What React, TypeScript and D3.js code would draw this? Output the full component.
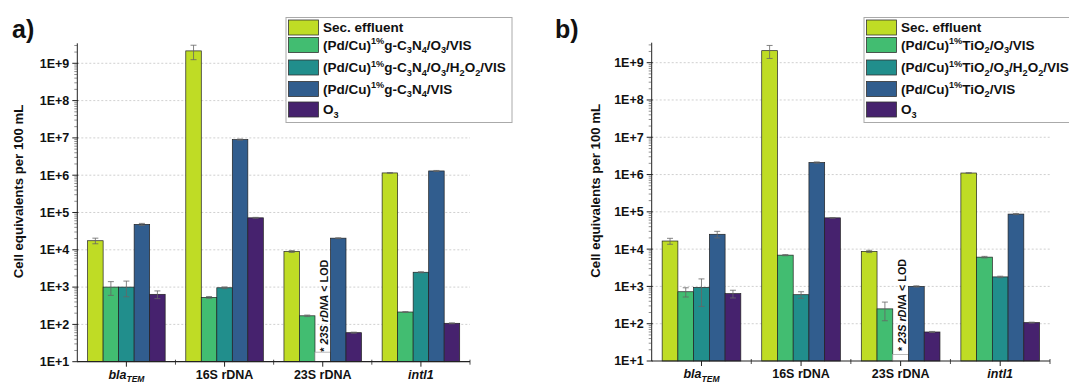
import React from 'react';
import * as d3 from 'd3';

// categories on the x axis
const categories = ['bla_{TEM}', '16S rDNA', '23S rDNA', 'intl1'];
const categoryItalic = [true, false, false, true];

// y ticks (log scale)
const yTickValues = [1e1, 1e2, 1e3, 1e4, 1e5, 1e6, 1e7, 1e8, 1e9];
const yTickLabels = ['1E+1', '1E+2', '1E+3', '1E+4', '1E+5', '1E+6', '1E+7', '1E+8', '1E+9'];

const seriesColors = ['#bfdc25', '#42bd71', '#218e8c', '#315d8e', '#46226e'];

// panel a) g-C3N4
const seriesNamesA = [
  'Sec. effluent',
  '(Pd/Cu)^{1%}g-C_{3}N_{4}/O_{3}/VIS',
  '(Pd/Cu)^{1%}g-C_{3}N_{4}/O_{3}/H_{2}O_{2}/VIS',
  '(Pd/Cu)^{1%}g-C_{3}N_{4}/VIS',
  'O_{3}',
];
const secEffluentA = [17500, 2.15e9, 9000, 1.15e6];
const gcnO3VisA = [1000, 530, 170, 215];
const gcnO3H2O2VisA = [1000, 960, null, 2500];
const gcnVisA = [48000, 9.0e6, 20500, 1.3e6];
const ozoneA = [640, 72000, 60, 107];
const secEffluentErrA = [3000, 9e8, 500, 30000];
const gcnO3VisErrA = [400, 30, 8, 5];
const gcnO3H2O2VisErrA = [450, 50, 0, 80];
const gcnVisErrA = [3000, 3e5, 500, 40000];
const ozoneErrA = [150, 2000, 2, 3];
const lodA = 18;

// panel b) TiO2
const seriesNamesB = [
  'Sec. effluent',
  '(Pd/Cu)^{1%}TiO_{2}/O_{3}/VIS',
  '(Pd/Cu)^{1%}TiO_{2}/O_{3}/H_{2}O_{2}/VIS',
  '(Pd/Cu)^{1%}TiO_{2}/VIS',
  'O_{3}',
];
const secEffluentB = [16500, 2.1e9, 8700, 1.1e6];
const tiO3VisB = [720, 6900, 250, 6100];
const tiO3H2O2VisB = [940, 600, null, 1800];
const tiVisB = [25000, 2.1e6, 1000, 87000];
const ozoneB = [640, 69000, 60, 107];
const secEffluentErrB = [3000, 8e8, 600, 25000];
const tiO3VisErrB = [200, 250, 130, 300];
const tiO3H2O2VisErrB = [650, 120, 0, 80];
const tiVisErrB = [5000, 80000, 40, 3000];
const ozoneErrB = [150, 1500, 2, 3];
const lodB = 15;

const FONT = "'Liberation Sans', Arial, Helvetica, sans-serif";

type Seg = { t: string; k: 'n' | 'sub' | 'sup' };
const parseRich = (s: string): Seg[] =>
  s
    .split(/(\^\{[^}]*\}|_\{[^}]*\})/)
    .filter(Boolean)
    .map((p) =>
      p.startsWith('^{')
        ? { t: p.slice(2, -1), k: 'sup' as const }
        : p.startsWith('_{')
        ? { t: p.slice(2, -1), k: 'sub' as const }
        : { t: p, k: 'n' as const }
    );

const RichText = ({ text, x, y, size, anchor = 'start', italic = false }: any) => {
  let cur = 0;
  return (
    <text x={x} y={y} fontSize={size} fontWeight="bold" fontFamily={FONT} textAnchor={anchor} fontStyle={italic ? 'italic' : 'normal'} fill="#111">
      {parseRich(text).map((s, i) => {
        const target = s.k === 'sup' ? -size * 0.38 : s.k === 'sub' ? size * 0.28 : 0;
        const dy = target - cur;
        cur = target;
        return (
          <tspan key={i} dy={dy} fontSize={s.k === 'n' ? size : size * 0.68}>
            {s.t}
          </tspan>
        );
      })}
    </text>
  );
};

interface PanelProps {
  label: string;
  labelX: number;
  axisX: number;
  axisEnd: number;
  bottom: number;
  top: number;
  yLabelX: number;
  legendX: number;
  legendW: number;
  names: string[];
  values: (number | null)[][];
  errors: number[][];
  lod: number;
}

const Panel = (p: PanelProps) => {
  const y = d3.scaleLog().domain([10, Math.pow(10, 9.536)]).range([p.bottom, p.top]);
  const x0 = d3.scaleBand<string>().domain(categories).range([p.axisX, p.axisEnd]).paddingInner(0.21).paddingOuter(0.105);
  const x1 = d3
    .scaleBand<number>()
    .domain(d3.range(p.names.length))
    .range([0, x0.bandwidth()]);
  const step = x0.step();

  const minor: number[] = [];
  for (let d = 1; d <= 9; d++) for (let k = 2; k <= 9; k++) if (k * 10 ** d <= y.domain()[1]) minor.push(k * 10 ** d);

  const legendRows = [27.5, 45, 67.5, 89, 109.5];
  const lodCat = categories[2];

  return (
    <g>
      <text x={p.labelX} y={38} fontSize={25} fontWeight="bold" fontFamily={FONT} fill="#111">
        {p.label}
      </text>
      {/* grid */}
      {yTickValues.slice(1).map((v) => (
        <line key={v} x1={p.axisX} x2={p.axisEnd} y1={y(v)} y2={y(v)} stroke="#c4c4c4" strokeWidth={0.8} strokeDasharray="2,2" />
      ))}
      {/* bars */}
      {categories.map((c, ci) =>
        p.values.map((vals, si) => {
          const v = vals[ci];
          const bx = (x0(c) as number) + (x1(si) as number);
          const bw = x1.bandwidth();
          if (v == null) {
            return (
              <rect key={`${ci}-${si}`} x={bx} y={y(p.lod)} width={bw} height={p.bottom - y(p.lod)} fill="#fff" stroke="#aaa" strokeWidth={0.8} />
            );
          }
          const e = p.errors[si][ci];
          const cx = bx + bw / 2;
          return (
            <g key={`${ci}-${si}`}>
              <rect x={bx} y={y(v)} width={bw} height={p.bottom - y(v)} fill={seriesColors[si]} stroke="#222" strokeWidth={0.7} />
              {e > 0 && (
                <g stroke="#666" strokeWidth={0.8}>
                  <line x1={cx} x2={cx} y1={y(v + e)} y2={y(Math.max(v - e, 10))} />
                  <line x1={cx - 3} x2={cx + 3} y1={y(v + e)} y2={y(v + e)} />
                  <line x1={cx - 3} x2={cx + 3} y1={y(Math.max(v - e, 10))} y2={y(Math.max(v - e, 10))} />
                </g>
              )}
            </g>
          );
        })
      )}
      {/* LOD note */}
      {(() => {
        const cx = (x0(lodCat) as number) + (x1(2) as number) + x1.bandwidth() / 2 + 1;
        return (
          <text transform={`translate(${cx},${p.bottom - 10}) rotate(-90)`} fontSize={10.8} fontWeight="bold" fontFamily={FONT} dominantBaseline="central" fill="#111">
            {'* '}
            <tspan fontStyle="italic">23S rDNA</tspan>
            {' < LOD'}
          </text>
        );
      })()}
      {/* y axis */}
      <line x1={p.axisX} x2={p.axisX} y1={p.top} y2={p.bottom} stroke="#222" strokeWidth={1} />
      {minor.map((v) => (
        <line key={v} x1={p.axisX - 3} x2={p.axisX} y1={y(v)} y2={y(v)} stroke="#444" strokeWidth={0.6} />
      ))}
      {yTickValues.map((v, i) => (
        <g key={v}>
          <line x1={p.axisX - 5} x2={p.axisX + 1} y1={y(v)} y2={y(v)} stroke="#222" strokeWidth={1} />
          <text x={p.axisX - 8} y={y(v)} dy="0.35em" textAnchor="end" fontSize={12.5} fontWeight="bold" fontFamily={FONT} fill="#111">
            {yTickLabels[i]}
          </text>
        </g>
      ))}
      <text
        transform={`translate(${p.yLabelX},${(p.top + p.bottom) / 2 - 11}) rotate(-90)`}
        textAnchor="middle"
        dominantBaseline="central"
        fontSize={13.2}
        fontWeight="bold"
        fontFamily={FONT}
        fill="#111"
      >
        Cell equivalents per 100 mL
      </text>
      {/* x axis */}
      <line x1={p.axisX} x2={p.axisEnd} y1={p.bottom} y2={p.bottom} stroke="#222" strokeWidth={1.2} />
      {categories.map((c, i) => {
        const cx = (x0(c) as number) + x0.bandwidth() / 2;
        return (
          <g key={c}>
            <line x1={cx} x2={cx} y1={p.bottom} y2={p.bottom + 5} stroke="#222" />
            <line x1={p.axisX + step * (i + 1)} x2={p.axisX + step * (i + 1)} y1={p.bottom - 2} y2={p.bottom + 3} stroke="#222" strokeWidth={0.8} />
            <RichText text={c} x={cx} y={p.bottom + 17} size={12.5} anchor="middle" italic={categoryItalic[i]} />
          </g>
        );
      })}
      {/* legend */}
      <rect x={p.legendX} y={17.5} width={p.legendW} height={105} fill="#fff" stroke="#aaa" strokeWidth={1} />
      {p.names.map((n, i) => (
        <g key={n}>
          <rect x={p.legendX + 2.5} y={legendRows[i] - 7.5} width={30} height={15} fill={seriesColors[i]} stroke="#333" strokeWidth={0.8} />
          <RichText text={n} x={p.legendX + 37} y={legendRows[i] + 4.5} size={13.5} />
        </g>
      ))}
    </g>
  );
};

export default function App() {
  return (
    <svg width={1069} height={387} style={{ position: 'absolute', left: 0, top: 0, background: '#fff' }}>
      <rect width={1069} height={387} fill="#fff" />
      <Panel
        label="a)"
        labelX={12}
        axisX={77.3}
        axisEnd={470}
        bottom={361.7}
        top={43.3}
        yLabelX={18}
        legendX={286}
        legendW={226}
        names={seriesNamesA}
        values={[secEffluentA, gcnO3VisA, gcnO3H2O2VisA, gcnVisA, ozoneA]}
        errors={[secEffluentErrA, gcnO3VisErrA, gcnO3H2O2VisErrA, gcnVisErrA, ozoneErrA]}
        lod={lodA}
      />
      <Panel
        label="b)"
        labelX={555}
        axisX={651.7}
        axisEnd={1050}
        bottom={361}
        top={42.7}
        yLabelX={595}
        legendX={864}
        legendW={215}
        names={seriesNamesB}
        values={[secEffluentB, tiO3VisB, tiO3H2O2VisB, tiVisB, ozoneB]}
        errors={[secEffluentErrB, tiO3VisErrB, tiO3H2O2VisErrB, tiVisErrB, ozoneErrB]}
        lod={lodB}
      />
    </svg>
  );
}
